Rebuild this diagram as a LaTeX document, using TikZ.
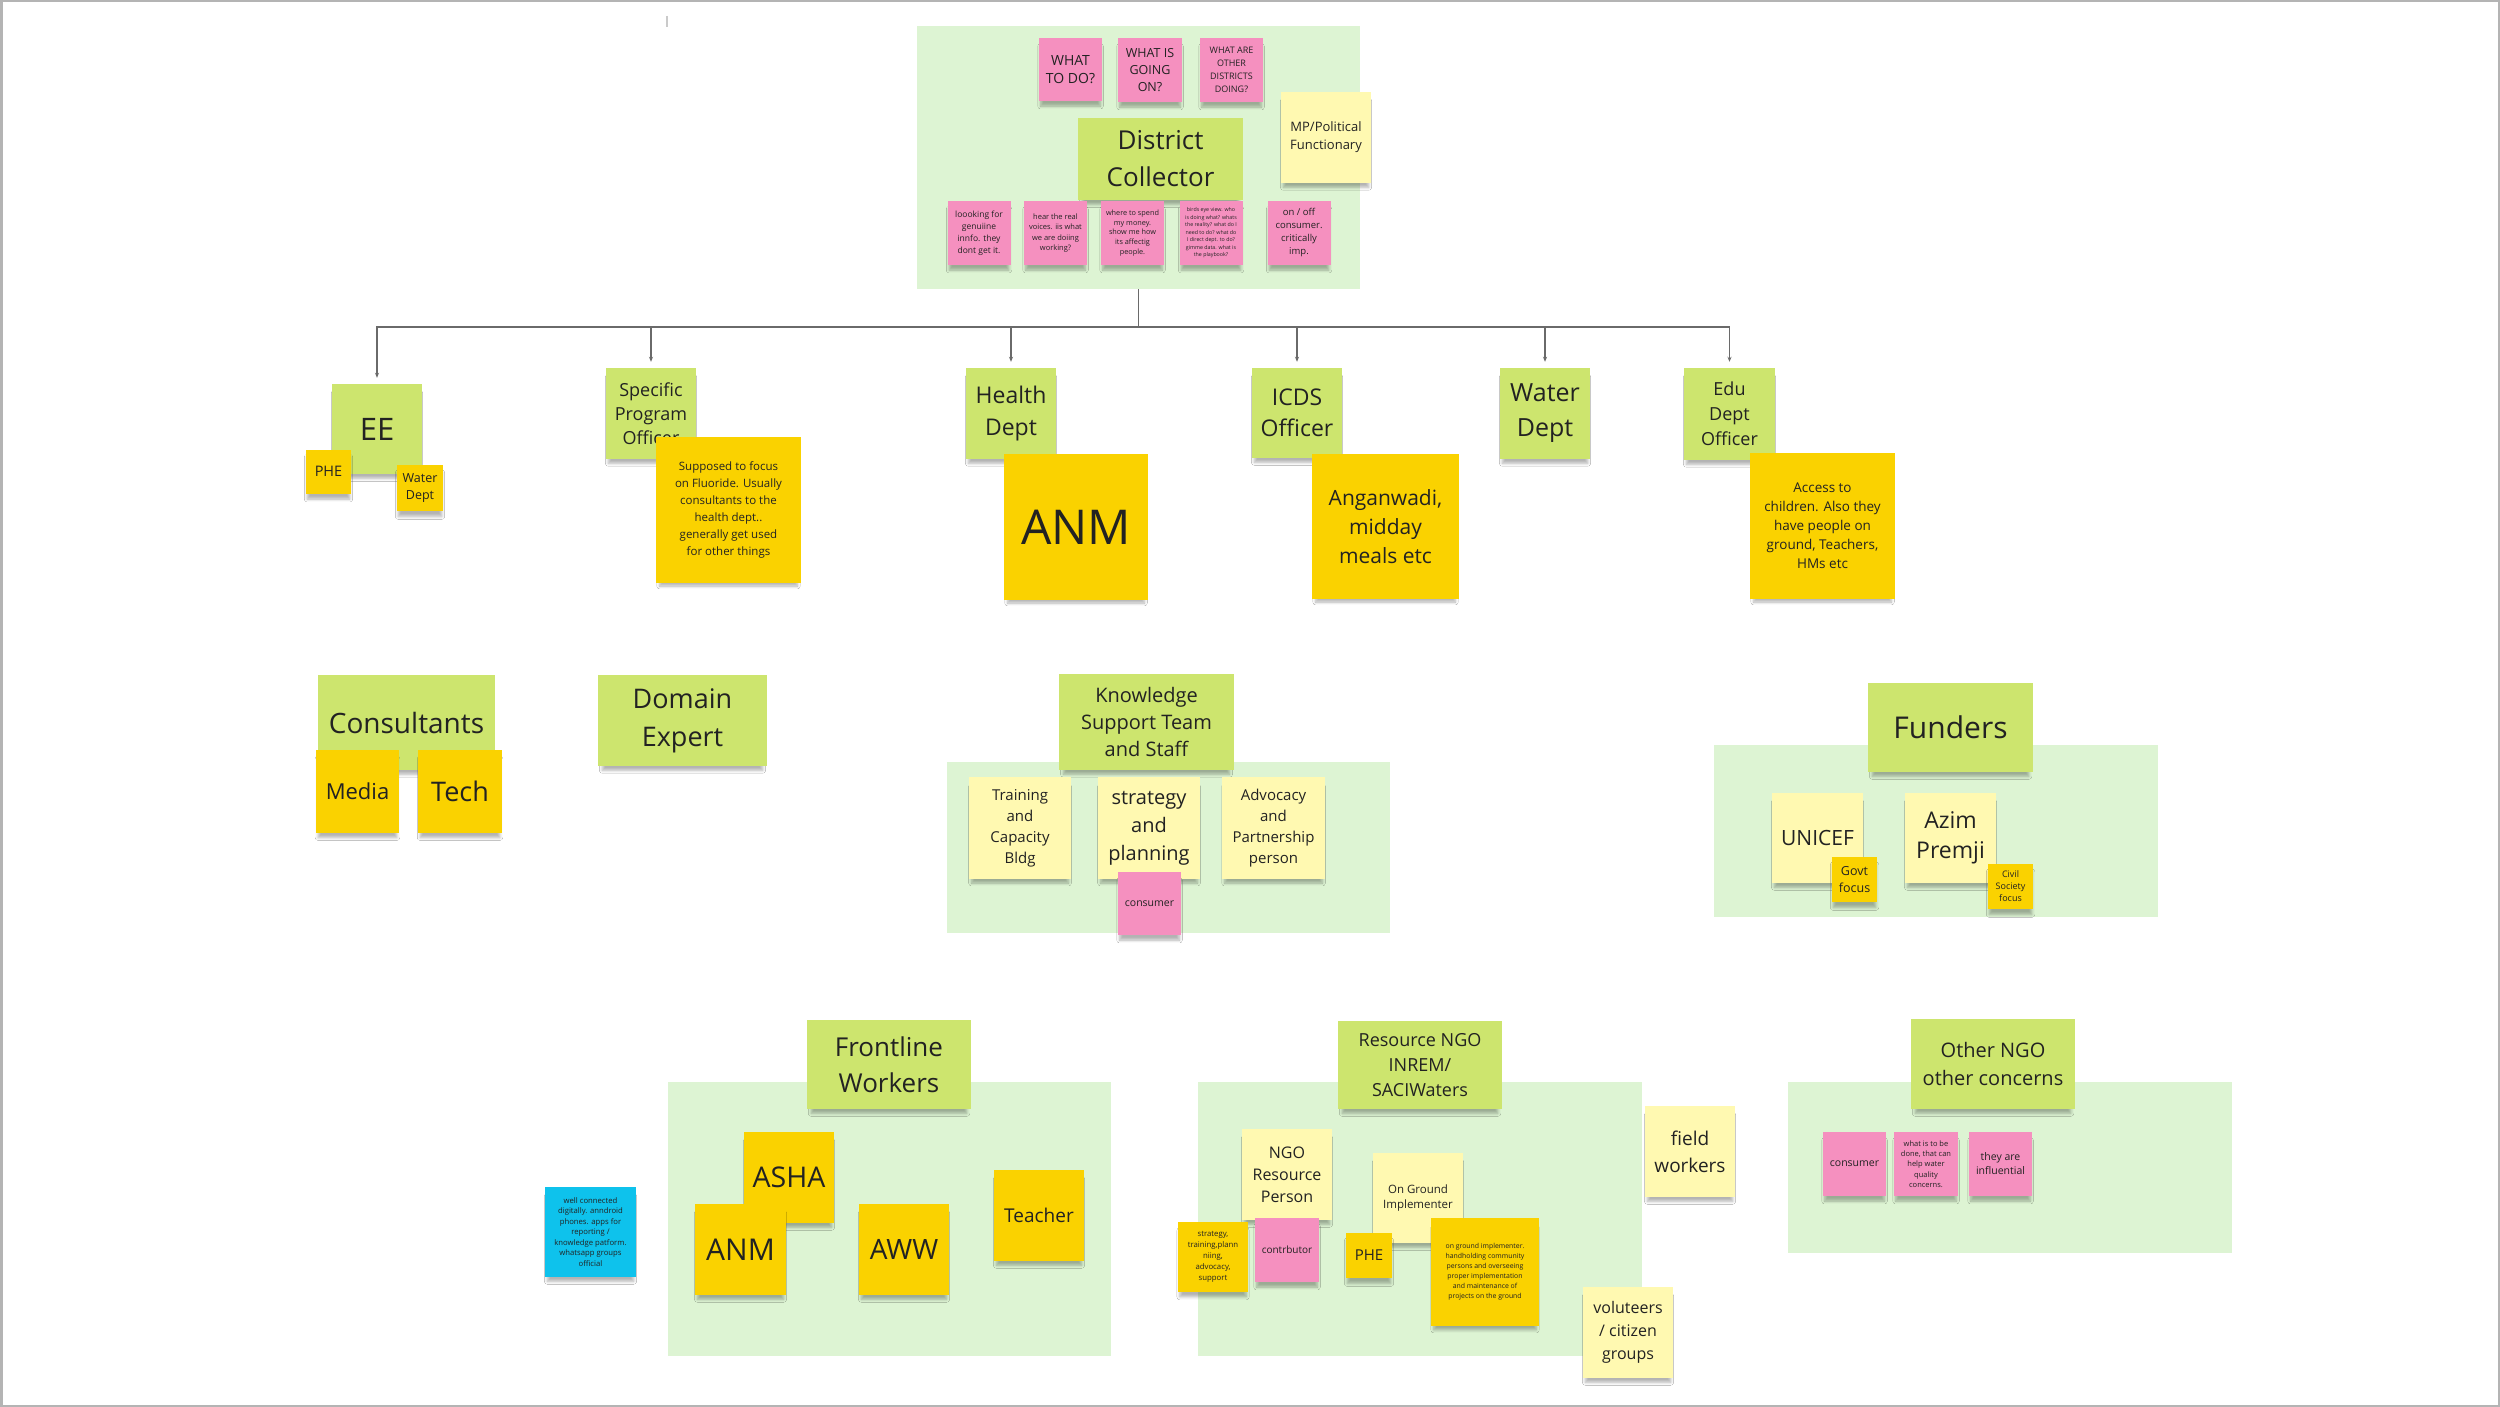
\documentclass[tikz,border=0pt]{standalone}
\usepackage{fontspec}
\setmainfont{Open Sans}
\usetikzlibrary{arrows.meta}
\usetikzlibrary{shadows.blur}

\definecolor{zonegreen}{HTML}{DDF4D3}
\definecolor{limegreen}{HTML}{CDE56E}
\definecolor{stickypink}{HTML}{F590BF}
\definecolor{paleyellow}{HTML}{FFF9B1}
\definecolor{goldyellow}{HTML}{FAD200}
\definecolor{cyanblue}{HTML}{0EC2EC}
\definecolor{inkgrey}{HTML}{222222}
\definecolor{linegrey}{HTML}{6A6A6A}
\definecolor{bordergrey}{HTML}{B4B4B4}

\newcommand{\fsz}[2]{\fontsize{#1}{#2}\selectfont}

\tikzset{
  note/.style={inner sep=1pt, align=center, text=inkgrey,
    blur shadow={shadow xshift=0pt, shadow yshift=-7pt, shadow blur radius=3pt,
      shadow blur steps=6, shadow opacity=30, shadow scale=0.95}},
  greennote/.style={note, fill=limegreen},
  pinknote/.style={note, fill=stickypink},
  palenote/.style={note, fill=paleyellow},
  goldnote/.style={note, fill=goldyellow},
  bluenote/.style={note, fill=cyanblue},
  zone/.style={fill=zonegreen, inner sep=0pt},
  branch/.style={draw=linegrey, line width=1.4pt},
  sz/.style 2 args={minimum width=#1, minimum height=#2},
}

\begin{document}
\begin{tikzpicture}[x=1pt, y=-1pt]
  \useasboundingbox (0,0) rectangle (2500,1407);
  \fill[white] (0,0) rectangle (2500,1407);
  \draw[bordergrey, line width=2.5pt] (1.25,1.25) rectangle (2498.75,1405.75);
  \draw[bordergrey!70, line width=1.5pt] (667,16) -- (667,27);

  % district collector
  \node (dczone) at (1138.5,157.5) [zone, sz={443}{263}] {};
  \node (whatdo) at (1070.5,69.5) [pinknote, sz={63}{63}, font=\fsz{14}{18}] {WHAT\\TO DO?};
  \node (whatgoing) at (1150,70) [pinknote, sz={64}{64}, font=\fsz{12.5}{17}] {WHAT IS\\GOING\\ON?};
  \node (whatothers) at (1231.5,70) [pinknote, sz={63}{64}, font=\fsz{9}{13}] {WHAT ARE\\OTHER\\DISTRICTS\\DOING?};
  \node (dc) at (1160.5,159) [greennote, sz={165}{82}, font=\fsz{26}{37}] {District\\Collector};
  \node (mp) at (1326,137.5) [palenote, sz={90}{91}, font=\fsz{13}{18}] {MP/Political\\Functionary};
  \node (genuine) at (979,233) [pinknote, sz={63}{64}, font=\fsz{8.5}{12}] {loooking for\\genuiine\\innfo. they\\dont get it.};
  \node (voices) at (1055.5,233) [pinknote, sz={63}{64}, font=\fsz{7.5}{10.5}] {hear the real\\voices. iis what\\we are doiing\\working?};
  \node (money) at (1132.5,233) [pinknote, sz={63}{64}, font=\fsz{7.3}{9.6}] {where to spend\\my money.\\show me how\\its affectig\\people.};
  \node (birdseye) at (1211,233) [pinknote, sz={63}{64}, font=\fsz{5.3}{7.5}] {birds eye view. who\\is doing what? whats\\the reality? what do I\\need to do? what do\\I direct dept. to do?\\gimme data. what is\\the playbook?};
  \node (onoff) at (1299,233) [pinknote, sz={63}{64}, font=\fsz{9.5}{13}] {on / off\\consumer.\\critically\\imp.};

  % departments
  \node (ee) at (377,429) [greennote, sz={90}{90}, font=\fsz{31}{36}] {EE};
  \node (phe) at (328.5,471.5) [goldnote, sz={45}{44}, font=\fsz{14.5}{18}] {PHE};
  \node (eewater) at (420,488) [goldnote, sz={46}{46}, font=\fsz{12.5}{17}] {Water\\Dept};
  \node (spo) at (651,413.5) [greennote, sz={90}{91}, font=\fsz{18}{24}] {Specific\\Program\\Officer};
  \node (fluoride) at (728.5,510) [goldnote, sz={145}{146}, font=\fsz{11.5}{17}] {Supposed to focus\\on Fluoride. Usually\\consultants to the\\health dept..\\generally get used\\for other things};
  \node (health) at (1011,413.5) [greennote, sz={90}{91}, font=\fsz{23}{32}] {Health\\Dept};
  \node (anm) at (1076,527) [goldnote, sz={144}{146}, font=\fsz{48}{56}] {ANM};
  \node (icds) at (1297,413) [greennote, sz={90}{90}, font=\fsz{23}{31}] {ICDS\\Officer};
  \node (anganwadi) at (1385.5,526.5) [goldnote, sz={147}{145}, font=\fsz{21}{29}] {Anganwadi,\\midday\\meals etc};
  \node (water) at (1545,413.5) [greennote, sz={90}{91}, font=\fsz{25}{35}] {Water\\Dept};
  \node (edu) at (1729.5,414) [greennote, sz={91}{92}, font=\fsz{18}{25}] {Edu\\Dept\\Officer};
  \node (access) at (1822.5,526) [goldnote, sz={145}{146}, font=\fsz{13.5}{19}] {Access to\\children. Also they\\have people on\\ground, Teachers,\\HMs etc};

  \coordinate (bus) at (1138.5,327);
  \draw[branch] (dczone.south) -- (bus);
  \foreach \n in {ee, spo, health, icds, water, edu} {
    \draw[branch, -{Stealth[length=5pt, width=4pt]}] (bus) -| ([yshift=6pt]\n.north);
  }

  % consultants, experts, knowledge team
  \node (consultants) at (406.5,722.5) [greennote, sz={177}{95}, font=\fsz{28}{34}] {Consultants};
  \node (media) at (357.5,791.5) [goldnote, sz={83}{83}, font=\fsz{22}{28}] {Media};
  \node (tech) at (460,791.5) [goldnote, sz={84}{83}, font=\fsz{27}{32}] {Tech};
  \node (domain) at (682.5,720.5) [greennote, sz={169}{91}, font=\fsz{27}{38}] {Domain\\Expert};

  \node (kstzone) at (1168.5,847.5) [zone, sz={443}{171}] {};
  \node (kst) at (1146.5,722) [greennote, sz={175}{96}, font=\fsz{20}{27}] {Knowledge\\Support Team\\and Staff};
  \node (training) at (1020,828) [palenote, sz={102}{102}, font=\fsz{15}{21}] {Training\\and\\Capacity\\Bldg};
  \node (strategy) at (1149,828) [palenote, sz={102}{102}, font=\fsz{20}{28}] {strategy\\and\\planning};
  \node (advocacy) at (1273.5,828) [palenote, sz={103}{102}, font=\fsz{15}{21}] {Advocacy\\and\\Partnership\\person};
  \node (kstconsumer) at (1149.5,903.5) [pinknote, sz={63}{63}, font=\fsz{10.5}{13}] {consumer};

  % funders
  \node (fundzone) at (1936,831) [zone, sz={444}{172}] {};
  \node (funders) at (1950.5,727.5) [greennote, sz={165}{89}, font=\fsz{30}{36}] {Funders};
  \node (unicef) at (1817.5,838) [palenote, sz={91}{90}, font=\fsz{21}{26}] {UNICEF};
  \node (govt) at (1854.5,879.5) [goldnote, sz={45}{45}, font=\fsz{12.5}{17}] {Govt\\focus};
  \node (azim) at (1950.5,838) [palenote, sz={91}{90}, font=\fsz{23}{30}] {Azim\\Premji};
  \node (civil) at (2010.5,886.5) [goldnote, sz={45}{45}, font=\fsz{9}{12}] {Civil\\Society\\focus};

  % frontline workers
  \node (fwzone) at (889.5,1219) [zone, sz={443}{274}] {};
  \node (fw) at (889,1064.5) [greennote, sz={164}{89}, font=\fsz{26}{36}] {Frontline\\Workers};
  \node (asha) at (789,1177.5) [goldnote, sz={90}{91}, font=\fsz{28.5}{34}] {ASHA};
  \node (fwanm) at (740.5,1249.5) [goldnote, sz={91}{91}, font=\fsz{30}{36}] {ANM};
  \node (aww) at (904,1249.5) [goldnote, sz={90}{91}, font=\fsz{28}{34}] {AWW};
  \node (teacher) at (1039,1215.5) [goldnote, sz={90}{91}, font=\fsz{19}{24}] {Teacher};
  \node (digital) at (590.5,1232) [bluenote, sz={91}{90}, font=\fsz{7.7}{10.5}] {well connected\\digitally. anndroid\\phones. apps for\\reporting /\\knowledge patform.\\whatsapp groups\\official};

  % resource ngo
  \node (rnzone) at (1420,1219) [zone, sz={444}{274}] {};
  \node (rn) at (1420,1065) [greennote, sz={164}{88}, font=\fsz{18}{25}] {Resource NGO\\INREM/\\SACIWaters};
  \node (ngorp) at (1287,1174.5) [palenote, sz={90}{91}, font=\fsz{16}{22}] {NGO\\Resource\\Person};
  \node (rnstrategy) at (1213,1257) [goldnote, sz={70}{70}, font=\fsz{7.8}{11}] {strategy,\\training,plann\\niing,\\advocacy,\\support};
  \node (contrib) at (1287,1250) [pinknote, sz={64}{64}, font=\fsz{10}{13}] {contrbutor};
  \node (implementer) at (1418,1198) [palenote, sz={90}{90}, font=\fsz{11.5}{15}] {On Ground\\Implementer};
  \node (rnphe) at (1369,1255.5) [goldnote, sz={46}{45}, font=\fsz{15}{18}] {PHE};
  \node (handhold) at (1485,1272) [goldnote, sz={108}{108}, font=\fsz{6.9}{10}] {on ground implementer.\\handholding community\\persons and overseeing\\proper implementation\\and maintenance of\\projects on the ground};
  \node (field) at (1690,1151.5) [palenote, sz={90}{91}, font=\fsz{19}{27}] {field\\workers};
  \node (volunteers) at (1628,1332.5) [palenote, sz={90}{91}, font=\fsz{16}{23}] {voluteers\\/ citizen\\groups};

  % other ngo
  \node (onzone) at (2010,1167.5) [zone, sz={444}{171}] {};
  \node (otherngo) at (1993,1064) [greennote, sz={164}{90}, font=\fsz{20}{28}] {Other NGO\\other concerns};
  \node (onconsumer) at (1854.5,1164) [pinknote, sz={63}{64}, font=\fsz{10.5}{13}] {consumer};
  \node (quality) at (1926,1164) [pinknote, sz={64}{64}, font=\fsz{7.5}{10.3}] {what is to be\\done, that can\\help water\\quality\\concerns.};
  \node (influential) at (2000.5,1164) [pinknote, sz={63}{64}, font=\fsz{10.5}{14}] {they are\\influential};
\end{tikzpicture}
\end{document}
